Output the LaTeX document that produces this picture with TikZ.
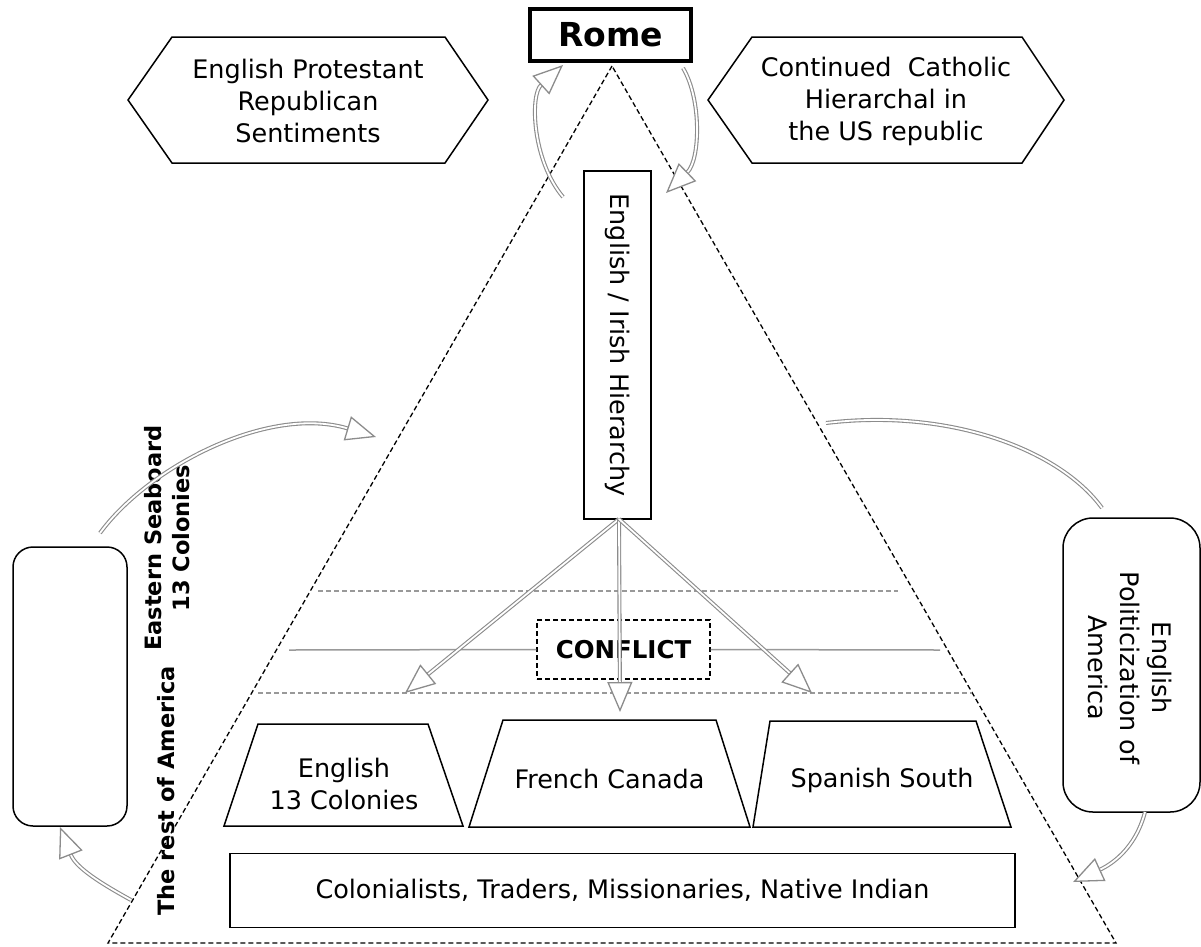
\documentclass[tikz,border=0pt]{standalone}
\usepackage{fontspec}
\setmainfont{DejaVu Sans}
\usetikzlibrary{arrows.meta}
\begin{document}
\begin{tikzpicture}[x=1pt,y=-1pt,
  outline/.style={draw=black, line width=1.5pt},
  txt/.style={align=center, font=\fontsize{25.5}{32}\selectfont, inner sep=0pt},
  btxt/.style={align=center, font=\fontsize{22.5}{28}\selectfont\bfseries, inner sep=0pt},
  link/.style={draw=gray!90, double=white, double distance=1.8pt, line width=1.1pt},
  flow/.style={link, -{Triangle[fill=white, length=30pt, width=25pt, line width=1.3pt]}},
  tier/.style={draw=gray!80, line width=1.5pt, dash pattern=on 5pt off 3pt},
  rule/.style={draw=gray!80, line width=1.5pt},
  frame/.style={draw=black, line width=1.3pt, dash pattern=on 5pt off 3pt}
]
\fill[white] (0,0) rectangle (1201,946);
\useasboundingbox (0,0) rectangle (1201,946);

% pyramid outline
\coordinate (apex) at (612,66);
\coordinate (bl) at (108,943);
\coordinate (br) at (1116,943);
\draw[frame] (apex) -- (bl) -- (br) -- cycle;

% tier lines inside the pyramid
\coordinate (t1a) at (318,591); \coordinate (t1b) at (898,591);
\coordinate (t3a) at (258,693); \coordinate (t3b) at (972,693);
\coordinate (m1a) at (289,650); \coordinate (m2b) at (940,650);
\draw[tier] (t1a) -- (t1b);
\draw[tier] (t3a) -- (t3b);

% Rome
\node[draw=black, line width=4.5pt, fill=white, minimum width=161pt, minimum height=52pt,
  inner sep=0pt, font=\fontsize{33}{38}\selectfont\bfseries] (rome) at (610.5,35) {Rome};

% hexagons
\draw[outline, fill=white] (128,100) -- (172,37) -- (445,37) -- (488,100) -- (445,163) -- (172,163) -- cycle;
\node[txt] (protestant) at (308,101) {English Protestant\\Republican\\Sentiments};
\draw[outline, fill=white] (708,100) -- (752,37) -- (1022,37) -- (1064,100) -- (1022,163) -- (752,163) -- cycle;
\node[txt] (catholic) at (886,101) {Continued~~Catholic\\Hierarchal in\\the US republic};

% hierarchy box
\node[outline, fill=white, minimum width=67pt, minimum height=348pt, inner sep=0pt] (hier) at (617.5,345) {};
\node[txt, rotate=-90] (hiertext) at (hier.center) {English / Irish Hierarchy};

% conflict
\node[frame, fill=white, minimum width=173pt, minimum height=59pt, inner sep=0pt,
  font=\fontsize{24.5}{28}\selectfont\bfseries] (conflict) at (623.5,649.5) {CONFLICT};
\draw[rule] (m1a) -- (conflict.west);
\draw[rule] (conflict.east) -- (m2b);

% arrows from the hierarchy
\coordinate (hs) at (619,519);
\coordinate (aL) at (405,693);
\coordinate (aC) at (620,712);
\coordinate (aR) at (812,693);
\draw[flow] (hs) -- (aL);
\draw[flow] (hs) -- (aC);
\draw[flow] (hs) -- (aR);

% colony blocks
\draw[outline, fill=white] (224,826) -- (258,724) -- (428,724) -- (463,826) -- cycle;
\node[txt] (english) at (344,784) {English\\13 Colonies};
\draw[outline, fill=white] (469,827) -- (503,720) -- (716,720) -- (750,827) -- cycle;
\node[txt] (french) at (609.5,779) {French Canada};
\draw[outline, fill=white] (753,827) -- (770,721) -- (976,721) -- (1011,827) -- cycle;
\node[txt] (spanish) at (882,780) {Spanish South};
\node[outline, fill=white, minimum width=785pt, minimum height=74pt, inner sep=0pt] (people) at (622.5,890.5) {};
\node[txt] (peopletext) at (people.center) {Colonialists, Traders, Missionaries, Native Indian};

% side boxes
\node[outline, rounded corners=20pt, minimum width=114pt, minimum height=279pt] (eastbox) at (70,686.5) {};
\node[outline, rounded corners=30pt, fill=white, minimum width=137pt, minimum height=294pt] (polbox) at (1131.5,665) {};
\node[txt, rotate=-90] (poltext) at (1130,668) {English\\Politicization of\\America};

% side labels
\node[btxt, rotate=90] (seaboard) at (167,538) {Eastern Seaboard\\13 Colonies};
\node[btxt, rotate=90] (restam) at (166,791) {The rest of America};

% curved flows
\coordinate (r1s) at (563,197); \coordinate (r1e) at (563,65);
\coordinate (r2s) at (683,68);  \coordinate (r2e) at (666,193);
\draw[flow] (r1s) .. controls (532,160) and (530,95) .. (r1e);
\draw[flow] (r2s) .. controls (702,100) and (700,160) .. (r2e);

\coordinate (e1s) at (100,533); \coordinate (e1e) at (376,437);
\draw[flow] (e1s) .. controls (150,465) and (270,405) .. (e1e);
\coordinate (p1s) at (826,423); \coordinate (p1e) at (1102,508);
\draw[link] (p1s) .. controls (950,408) and (1060,450) .. (p1e);
\coordinate (p2s) at (1145,812); \coordinate (p2e) at (1073,882);
\draw[flow] (p2s) .. controls (1135,850) and (1110,865) .. (p2e);
\coordinate (e2s) at (131,900); \coordinate (e2e) at (60,827);
\draw[flow] (e2s) .. controls (102,884) and (76,868) .. (e2e);
\end{tikzpicture}
\end{document}
